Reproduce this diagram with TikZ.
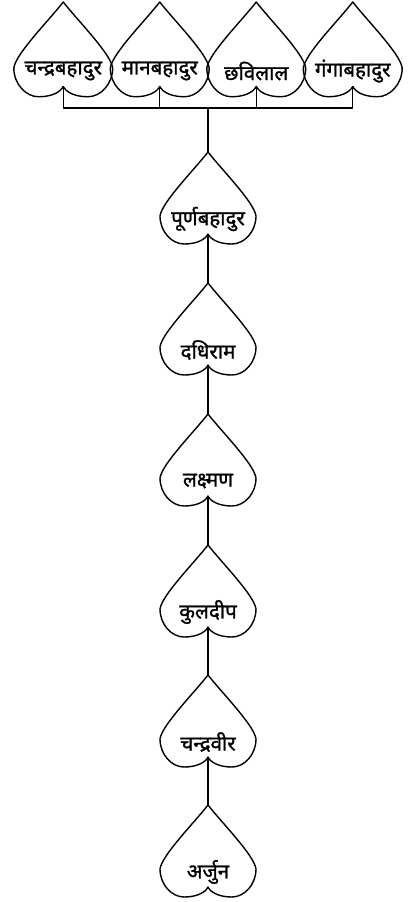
\documentclass[tikz,border=0pt]{standalone}
\usepackage{fontspec}
\newfontfamily\deva[Script=Devanagari,FakeBold=1.2]{Noto Sans}
\tikzset{lineh/.style={draw=black,line width=1.4pt,line join=round},
  person/.style={font=\deva\fontsize{20.5}{24}\selectfont,inner sep=0pt},
  heart/.pic={\draw[lineh](0,0)coordinate(-tip) .. controls (14,-18) and (46,-50) .. (48,-64) .. controls (48,-80) and (36,-92) .. (24,-92) .. controls (12,-92) and (3,-88) .. (0,-82)coordinate(-notch) .. controls (-3,-88) and (-12,-92) .. (-24,-92) .. controls (-36,-92) and (-48,-80) .. (-48,-64) .. controls (-46,-50) and (-14,-18) .. (0,0)--cycle;
    \node[person](-txt) at (0,-67){#1};}}
\begin{document}
\begin{tikzpicture}[x=1pt,y=1pt]
\useasboundingbox (0,0) rectangle (419,-902);
% sons
\foreach \n/\t/\x in {chandra/चन्द्रबहादुर/63.25,man/मानबहादुर/159.75,chhabi/छविलाल/256.25,ganga/गंगाबहादुर/352.75}{\pic[scale=1.03](\n) at (\x,-2){heart=\t};}
% line of descent
\foreach \n/\t/\y in {purna/पूर्णबहादुर/152,dadhi/दधिराम/283,laxman/लक्ष्मण/414,kuldip/कुलदीप/545,chandrabir/चन्द्रवीर/675,arjun/अर्जुन/805}{\pic(\n) at (208,-\y){heart=\t};}
\coordinate(join) at (208,-108);
\foreach \n in {chandra,man,chhabi,ganga}{\draw[lineh](\n-notch)|-(join);}
\draw[lineh](join)--(purna-tip);
\foreach \a/\b in {purna/dadhi,dadhi/laxman,laxman/kuldip,kuldip/chandrabir,chandrabir/arjun}{\draw[lineh](\a-notch)--(\b-tip);}
\end{tikzpicture}
\end{document}
